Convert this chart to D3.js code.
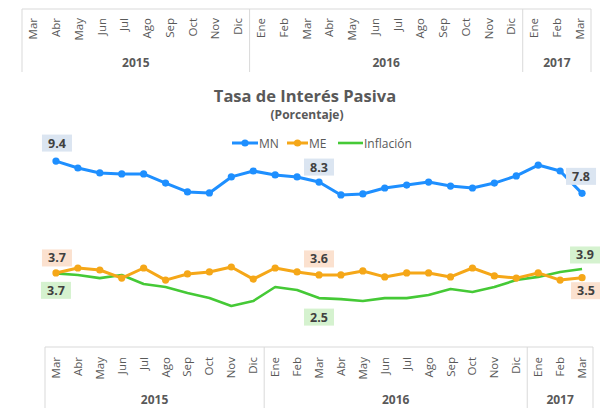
<!DOCTYPE html>
<html>
<head>
<meta charset="utf-8">
<script src="https://cdn.jsdelivr.net/npm/d3@7"></script>
<style>
  body { margin: 0; background: #fff; }
  svg { display: block; font-family: "Open Sans", sans-serif; }
</style>
</head>
<body>
<div id="chart"></div>
<script>
// months shown on the category axis (Mar 2015 - Mar 2017)
const months = ["Mar","Abr","May","Jun","Jul","Ago","Sep","Oct","Nov","Dic",
                "Ene","Feb","Mar","Abr","May","Jun","Jul","Ago","Sep","Oct","Nov","Dic",
                "Ene","Feb","Mar"];
const years = ["2015", "2016", "2017"];
const yearCounts = [10, 12, 3];

// series values (%)
const mnValues  = [9.39, 9.04, 8.79, 8.74, 8.74, 8.28, 7.83, 7.78, 8.59, 8.89, 8.69, 8.59,
                   8.33, 7.68, 7.73, 8.03, 8.18, 8.33, 8.13, 8.03, 8.28, 8.64, 9.19, 8.89, 7.76];
const meValues  = [3.74, 3.99, 3.89, 3.48, 3.99, 3.38, 3.69, 3.79, 4.04, 3.43, 3.99, 3.79,
                   3.64, 3.64, 3.84, 3.54, 3.74, 3.74, 3.54, 3.99, 3.59, 3.48, 3.74, 3.38, 3.50];
const infValues = [3.72, 3.64, 3.48, 3.64, 3.18, 3.03, 2.73, 2.47, 2.07, 2.32, 3.03, 2.88,
                   2.47, 2.42, 2.32, 2.47, 2.47, 2.63, 2.93, 2.78, 3.03, 3.38, 3.54, 3.79, 3.94];

const seriesNames = ["MN", "ME", "Inflación"];

const width = 600, height = 408;
const svg = d3.select("#chart").append("svg")
    .attr("width", width)
    .attr("height", height);

const gray = "#595959";
const gridGray = "#d9d9d9";

// draws a two-level category axis (months + years)
function drawCategoryAxis(x0, x1, top, bottom, labelGap, yearY) {
    let x = d3.scaleBand().domain(d3.range(months.length)).range([x0, x1]);
    let g = svg.append("g");

    g.append("line")
        .attr("x1", x0).attr("x2", x1).attr("y1", top).attr("y2", top)
        .attr("stroke", gridGray);

    // group separators
    let bounds = [0];
    yearCounts.forEach(c => bounds.push(bounds[bounds.length - 1] + c));
    bounds.forEach(b => {
        let bx = b < months.length ? x(b) : x1;
        g.append("line")
            .attr("x1", bx).attr("x2", bx).attr("y1", top).attr("y2", bottom)
            .attr("stroke", gridGray);
    });

    g.selectAll(".month")
        .data(months)
        .join("text")
        .attr("class", "month")
        .attr("transform", (d, i) => `translate(${x(i) + x.bandwidth() / 2 + 4},${top + labelGap}) rotate(-90)`)
        .attr("text-anchor", "end")
        .attr("font-size", 11.5)
        .attr("fill", gray)
        .text(d => d);

    g.selectAll(".year")
        .data(years)
        .join("text")
        .attr("class", "year")
        .attr("x", (d, i) => {
            let a = x(bounds[i]);
            let b = bounds[i + 1] < months.length ? x(bounds[i + 1]) : x1;
            return (a + b) / 2;
        })
        .attr("y", yearY)
        .attr("text-anchor", "middle")
        .attr("font-size", 12)
        .attr("font-weight", "bold")
        .attr("fill", gray)
        .text(d => d);

    return x;
}

// cropped axis from the previous chart at the top
drawCategoryAxis(22, 591, 9, 72, 9, 67);

// main chart axis
let x = drawCategoryAxis(45, 593, 347, 408, 10, 404);
let y = d3.scaleLinear().domain([0, 10]).range([347, 149]);
let cx = i => x(i) + x.bandwidth() / 2;

// title
svg.append("text")
    .attr("x", 305).attr("y", 102)
    .attr("text-anchor", "middle")
    .attr("font-size", 16.5)
    .attr("font-weight", "bold")
    .attr("fill", gray)
    .text("Tasa de Interés Pasiva");

svg.append("text")
    .attr("x", 307).attr("y", 119)
    .attr("text-anchor", "middle")
    .attr("font-size", 12)
    .attr("font-weight", "bold")
    .attr("fill", gray)
    .text("(Porcentaje)");

const series = [
    { name: seriesNames[0], values: mnValues,  color: "#1e8fff", width: 3,   marker: true,  fill: "#dbe5f1" },
    { name: seriesNames[1], values: meValues,  color: "#f5a718", width: 3,   marker: true,  fill: "#fbe1cf" },
    { name: seriesNames[2], values: infValues, color: "#45c936", width: 2.6, marker: false, fill: "#d5f2cf" }
];

let line = d3.line()
    .x((d, i) => cx(i))
    .y(d => y(d));

// draw lines (inflation first so it sits underneath)
[series[2], series[1], series[0]].forEach(s => {
    svg.append("path")
        .datum(s.values)
        .attr("d", line)
        .attr("fill", "none")
        .attr("stroke", s.color)
        .attr("stroke-width", s.width)
        .attr("stroke-linejoin", "round");

    if (s.marker) {
        svg.append("g")
            .selectAll("circle")
            .data(s.values)
            .join("circle")
            .attr("cx", (d, i) => cx(i))
            .attr("cy", d => y(d))
            .attr("r", 3.6)
            .attr("fill", s.color);
    }
});

// data labels: [series index, point index, dx, dy]
const labels = [
    [0, 0, 1, -18], [0, 12, 0, -15], [0, 24, -1, -17],
    [1, 0, 1, -15], [1, 12, 0, -16], [1, 24, 4, 13],
    [2, 0, 0, 17],  [2, 12, 0, 19],  [2, 24, 3, -14]
];

labels.forEach(([si, pi, dx, dy]) => {
    let s = series[si];
    let lx = cx(pi) + dx, ly = y(s.values[pi]) + dy;
    svg.append("rect")
        .attr("x", lx - 15).attr("y", ly - 8.5)
        .attr("width", 30).attr("height", 17)
        .attr("fill", s.fill);
    svg.append("text")
        .attr("x", lx).attr("y", ly + 4.5)
        .attr("text-anchor", "middle")
        .attr("font-size", 12.5)
        .attr("font-weight", "bold")
        .attr("fill", "#404040")
        .text(d3.format(".1f")(s.values[pi]));
});

// legend
const legendX = [232, 287, 338];
const legendW = [26, 21, 25];
const legend = svg.append("g");
series.forEach((s, i) => {
    let lx = legendX[i];
    legend.append("line")
        .attr("x1", lx).attr("x2", lx + legendW[i])
        .attr("y1", 143).attr("y2", 143)
        .attr("stroke", s.color)
        .attr("stroke-width", s.width);
    if (s.marker) {
        legend.append("circle")
            .attr("cx", lx + legendW[i] / 2).attr("cy", 143)
            .attr("r", 3.6)
            .attr("fill", s.color);
    }
    legend.append("text")
        .attr("x", lx + legendW[i] + 1).attr("y", 147.5)
        .attr("font-size", 12)
        .attr("fill", gray)
        .text(s.name);
});
</script>
</body>
</html>
